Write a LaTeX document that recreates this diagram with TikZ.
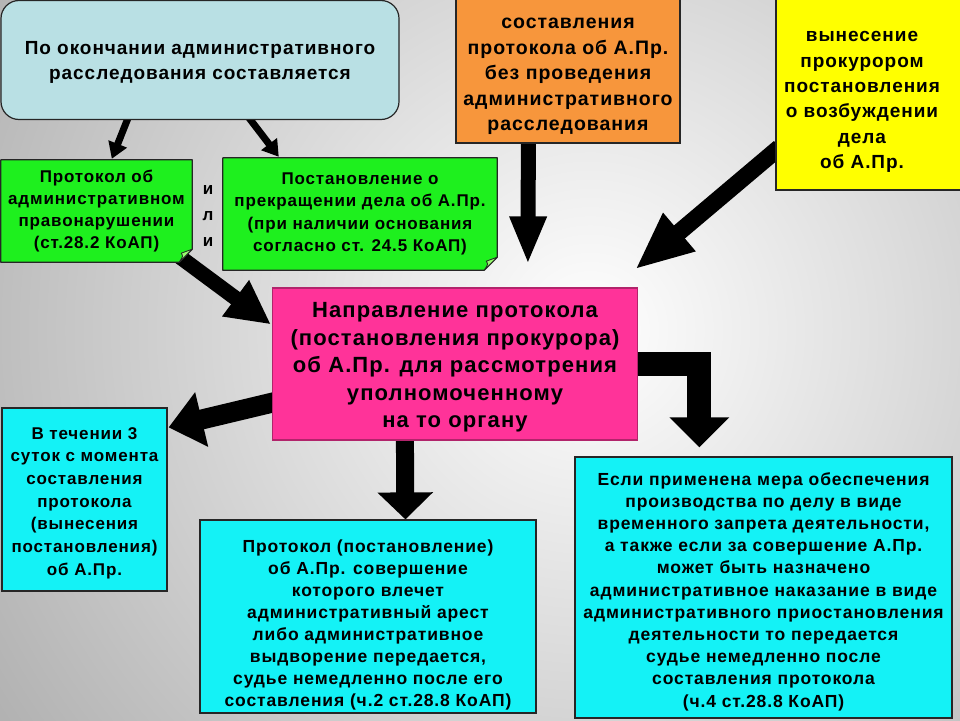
\documentclass[tikz,border=0pt]{standalone}
\usepackage{fontspec}
\setmainfont{Liberation Sans}
\newfontfamily\spfont[LetterSpace=5]{Liberation Sans}
\usetikzlibrary{arrows.meta,calc}
\definecolor{lblue}{RGB}{185,224,228}
\definecolor{lgreen}{RGB}{30,240,30}
\definecolor{foldgreen}{RGB}{150,250,110}
\definecolor{orng}{RGB}{247,150,60}
\definecolor{yel}{RGB}{255,255,0}
\definecolor{pnk}{RGB}{255,51,153}
\definecolor{cyn}{RGB}{20,242,246}
\definecolor{bgout}{RGB}{140,140,140}
\pgfdeclarelayer{bg}
\pgfdeclarelayer{arw}
\pgfdeclarelayer{fills}
\pgfsetlayers{bg,arw,fills,main}
\tikzset{
  box/.style={draw=black!85, line width=1.2pt, inner sep=0pt},
  txt/.style={align=center, inner sep=0pt},
  blk/.style={draw=black, line join=miter},
  fnt/.style 2 args={font=\spfont\bfseries\fontsize{#1}{#2}\selectfont},
}
\begin{document}
\begin{tikzpicture}[x=1pt,y=-1pt]
\useasboundingbox (0,0) rectangle (960,720);
\begin{pgfonlayer}{bg}
\begin{scope}
\clip (0,0) rectangle (960,720);
\fill[bgout] (0,0) rectangle (960,720);
\shade[inner color=white, outer color=bgout] (590,330) circle (1050);
\end{scope}
\end{pgfonlayer}

% top box
\node[box, rounded corners=18pt, fill=lblue, minimum width=398pt, minimum height=119pt] (top) at (200,60) {};
\node[txt, fnt={19}{25}] (toptxt) at ($(top.center)+(0,2.5)$)
  {По окончании административного\\расследования составляется};

% green boxes (fill drawn on fills layer)
\node[txt, minimum width=191pt, minimum height=102pt, fnt={17}{22}] (g1) at (96.5,211)
  {Протокол об\\административном\\правонарушении\\(ст.28.2 КоАП)};
\node[txt, minimum width=274pt, minimum height=112pt, fnt={17}{22.5}] (g2) at (360,214)
  {Постановление о\\прекращении дела об А.Пр.\\(при наличии основания\\согласно ст. 24.5 КоАП)};
\node[txt, fnt={17}{26}] (ili) at (208,216) {и\\л\\и};

% orange
\node[box, fill=orng, minimum width=224pt, minimum height=145pt] (orange) at (568,70.5) {};
\node[txt, fnt={19.5}{25.5}] (orangetxt) at ($(orange.center)+(0,6)$)
  {составления\\протокола об А.Пр.\\без проведения\\административного\\расследования};
% yellow
\node[box, fill=yel, minimum width=190pt, minimum height=193pt] (yellow) at (871,93.5) {};
\node[txt, fnt={19}{25.3}] (yeltxt) at (862,102)
  {вынесение\\прокурором\\постановления\\о возбуждении\\дела\\об А.Пр.};
% pink
\node[box, draw=pnk!70!black, fill=pnk, minimum width=365pt, minimum height=152pt] (pink) at (455,364) {};
\node[txt, fnt={22}{27.5}] (pinktxt) at ($(pink.center)+(0,3.5)$)
  {Направление протокола\\(постановления прокурора)\\об А.Пр. для рассмотрения\\уполномоченному\\на то органу};
% left cyan
\node[box, fill=cyn, minimum width=165pt, minimum height=183pt] (lc) at (84.5,499.5) {};
\node[txt, fnt={17}{22.7}] (lctxt) at ($(lc.center)+(0,3.5)$)
  {В течении 3\\суток с момента\\составления\\протокола\\(вынесения\\постановления)\\об А.Пр.};
% bottom middle cyan
\node[box, fill=cyn, minimum width=336pt, minimum height=193pt] (bm) at (368,616.5) {};
\node[txt, fnt={17.5}{22.1}] (bmtxt) at ($(bm.center)+(0,8.5)$)
  {Протокол (постановление)\\об А.Пр. совершение\\которого влечет\\административный арест\\либо административное\\выдворение передается,\\судье немедленно после его\\составления (ч.2 ст.28.8 КоАП)};
% right cyan
\node[box, fill=cyn, minimum width=377pt, minimum height=261pt] (rc) at (763.5,587.5) {};
\node[txt, fnt={17.5}{22.2}] (rctxt) at ($(rc.center)+(0,4)$)
  {Если применена мера обеспечения\\производства по делу в виде\\временного запрета деятельности,\\а также если за совершение А.Пр.\\может быть назначено\\административное наказание в виде\\административного приостановления\\деятельности то передается\\судье немедленно после\\составления протокола\\(ч.4 ст.28.8 КоАП)};

% green fills with folded corner
\begin{pgfonlayer}{fills}
\foreach \g in {g1,g2}{
  \filldraw[fill=lgreen, draw=black!85, line width=1.2pt, line join=round]
    (\g.north west) -- (\g.north east) -- ($(\g.south east)+(0,-13)$)
    -- ($(\g.south east)+(-13,0)$) -- (\g.south west) -- cycle;
  \filldraw[fill=foldgreen, draw=black!85, line width=0.8pt, line join=round]
    ($(\g.south east)+(0,-13)$) -- ($(\g.south east)+(-13,0)$)
    .. controls ($(\g.south east)+(-9,-6)$) .. ($(\g.south east)+(-11,-9)$)
    -- cycle;
}
\end{pgfonlayer}

% arrows
\begin{pgfonlayer}{arw}
\draw[blk, line width=7pt, -{Triangle[width=19pt,length=16pt]}]
  ($(top.south west)+(128,-3)$) -- ($(g1.north west)+(111,-1)$);
\draw[blk, line width=7pt, -{Triangle[width=19pt,length=16pt]}]
  ($(top.south west)+(248,-3)$) -- ($(g2.north west)+(56,-1)$);
\draw[blk, line width=15pt, -{Triangle[width=42pt,length=44pt]}]
  ($(g1.south east)+(-16,-8)$) -- ($(pink.north west)+(-1,37)$);
\draw[blk, line width=15pt, -{Triangle[width=34pt,length=48pt]}]
  ($(orange.south west)+(73,-3)$) -- ($(pink.north west)+(256,-23)$);
\draw[blk, line width=17pt, -{Triangle[width=46pt,length=58pt]}]
  ($(yellow.west)+(4,54)$) -- ($(pink.north east)+(-3,-18)$);
\draw[blk, line width=20pt, -{Triangle[width=54pt,length=34pt]}]
  ($(pink.west)+(3,38)$) -- ($(lc.north east)+(1,20)$);
\draw[blk, line width=18pt, -{Triangle[width=54pt,length=27pt]}]
  ($(pink.south west)+(133,-3)$) -- ($(bm.north west)+(206,0)$);
\draw[blk, line width=24pt, -{Triangle[width=58pt,length=30pt]}]
  ($(pink.east)+(-3,0)$) -| ($(rc.north west)+(125,-9)$);
\end{pgfonlayer}
\end{tikzpicture}
\end{document}
